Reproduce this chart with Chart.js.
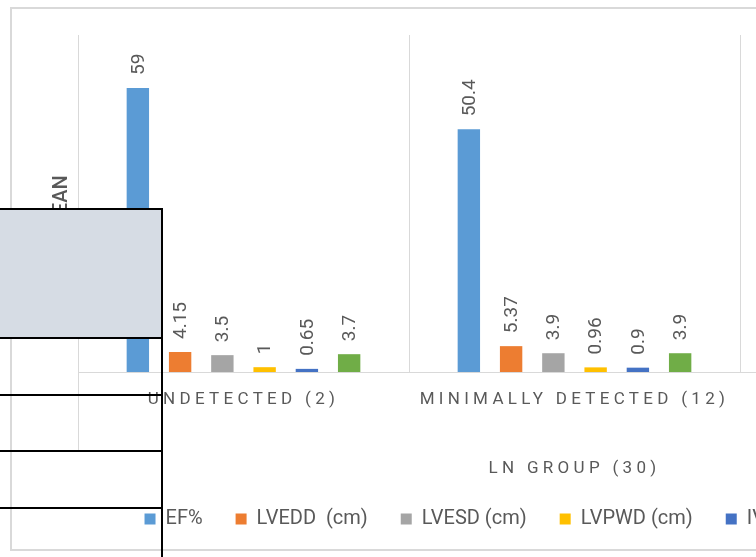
<!DOCTYPE html>
<html>
<head>
<meta charset="utf-8">
<script src="https://cdn.jsdelivr.net/npm/chart.js@4.4.1/dist/chart.umd.min.js"></script>
<style>
  html, body { margin: 0; padding: 0; background: #fff; width: 756px; height: 557px; overflow: hidden; position: relative; }
  #frame { position: absolute; left: 10px; top: 7px; width: 1082px; height: 540px; border: 2px solid #d9d9d9; background: #fff; }
  #chart { display: block; }
  #cell { position: absolute; left: 0; top: 210px; width: 161px; height: 127px; background: #d6dce4; }
  .rule { position: absolute; background: #000; }
</style>
</head>
<body>
<div id="frame"><canvas id="chart" width="1082" height="540"></canvas></div>

<!-- table lines laid over the left side of the chart -->
<div id="cell"></div>
<div class="rule" style="left:0;top:208px;width:163px;height:2px"></div>
<div class="rule" style="left:0;top:337px;width:163px;height:2px"></div>
<div class="rule" style="left:0;top:394px;width:163px;height:2px"></div>
<div class="rule" style="left:0;top:450px;width:163px;height:2px"></div>
<div class="rule" style="left:0;top:507px;width:163px;height:2px"></div>
<div class="rule" style="left:161px;top:208px;width:2px;height:349px"></div>

<script>
const groups = ['UNDETECTED (2)', 'MINIMALLY DETECTED (12)', 'STRONGLY DETECTED (16)'];
const groupTitle = 'LN GROUP (30)';
const valueTitle = 'MEAN';

const seriesNames = ['EF%', 'LVEDD  (cm)', 'LVESD (cm)', 'LVPWD (cm)', 'IVSD (cm)', 'LA (cm)'];
const efPct = [59, 50.4, null];
const lvedd = [4.15, 5.37, null];
const lvesd = [3.5, 3.9, null];
const lvpwd = [1, 0.96, null];
const ivsd  = [0.65, 0.9, null];
const la    = [3.7, 3.9, null];

const seriesColors = ['#5b9bd5', '#ed7d31', '#a5a5a5', '#ffc000', '#4472c4', '#70ad47'];

const textColor = '#595959';
const lineColor = '#d9d9d9';
const fontFamily = 'Roboto, "Open Sans", sans-serif';

const seriesValues = [efPct, lvedd, lvesd, lvpwd, ivsd, la];

// value labels above each bar, turned on their side
const barLabels = {
  id: 'barLabels',
  afterDatasetsDraw(chart) {
    const ctx = chart.ctx;
    ctx.save();
    ctx.letterSpacing = '0px';
    ctx.fillStyle = textColor;
    ctx.font = '19px ' + fontFamily;
    ctx.textAlign = 'left';
    ctx.textBaseline = 'middle';
    chart.data.datasets.forEach((ds, i) => {
      chart.getDatasetMeta(i).data.forEach((bar, j) => {
        const v = ds.data[j];
        if (v == null) return;
        ctx.save();
        ctx.translate(bar.x + 1, bar.y - 13);
        ctx.rotate(-Math.PI / 2);
        ctx.fillText(String(v), 0, 0);
        ctx.restore();
      });
    });
    ctx.restore();
    // category labels drawn after this point get spaced-out letters
    ctx.letterSpacing = '4.3px';
  },
  afterDraw(chart) {
    const ctx = chart.ctx;
    ctx.letterSpacing = '0px';
    // outer group ticks run down through both label rows
    const {left, right, bottom} = chart.chartArea;
    ctx.save();
    ctx.strokeStyle = lineColor;
    ctx.lineWidth = 1;
    [left, right].forEach(x => {
      const px = Math.round(x) + 0.5;
      ctx.beginPath();
      ctx.moveTo(px, bottom);
      ctx.lineTo(px, bottom + 80);
      ctx.stroke();
    });
    ctx.restore();
  }
};

new Chart(document.getElementById('chart'), {
  type: 'bar',
  data: {
    labels: groups,
    datasets: seriesNames.map((name, i) => ({
      label: name,
      data: seriesValues[i],
      backgroundColor: seriesColors[i],
      borderWidth: 0,
      categoryPercentage: 0.766,
      barPercentage: 0.53
    }))
  },
  options: {
    responsive: false,
    animation: false,
    layout: { padding: { top: 26, bottom: 10, left: 0, right: 0 } },
    plugins: {
      tooltip: { enabled: false },
      legend: {
        position: 'bottom',
        labels: {
          boxWidth: 11,
          boxHeight: 11,
          padding: 33,
          color: textColor,
          font: { family: fontFamily, size: 20 }
        }
      }
    },
    scales: {
      x: {
        offset: true,
        grid: { display: true, color: lineColor, lineWidth: 1, drawTicks: false, offset: true, z: 1 },
        border: { display: true, color: lineColor, width: 1, z: 1 },
        ticks: {
          z: 1,
          color: textColor,
          padding: 18,
          autoSkip: false,
          maxRotation: 0,
          font: { family: fontFamily, size: 17 }
        },
        title: {
          display: true,
          text: groupTitle,
          color: textColor,
          padding: { top: 0, bottom: -3 },
          font: { family: fontFamily, size: 17 }
        },
        afterFit(scale) { scale.height = 104; }
      },
      y: {
        min: 0,
        max: 70,
        grid: { display: false, z: 0 },
        border: { display: false },
        ticks: { display: false },
        title: {
          display: true,
          text: valueTitle,
          color: textColor,
          padding: { top: 38, bottom: 0 },
          font: { family: fontFamily, size: 20, weight: '500' }
        },
        afterFit(scale) { scale.width = 66; }
      },
      yRight: {
        position: 'right',
        display: true,
        grid: { display: false },
        border: { display: false },
        ticks: { display: false },
        afterFit(scale) { scale.width = 23; }
      }
    }
  },
  plugins: [barLabels]
});
</script>
</body>
</html>
